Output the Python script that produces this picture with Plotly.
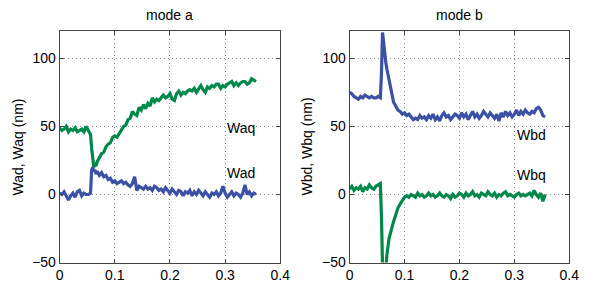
import plotly.graph_objects as go

# sample times (s)
t = [0.000, 0.004, 0.008, 0.012, 0.016, 0.020, 0.024, 0.028, 0.032, 0.036,
     0.040, 0.044, 0.048, 0.052, 0.056, 0.058, 0.060, 0.062, 0.064, 0.066,
     0.068, 0.072, 0.076, 0.080, 0.084, 0.088, 0.092, 0.096, 0.100,
     0.104, 0.108, 0.112, 0.116, 0.120, 0.124, 0.128, 0.132,
     0.136, 0.140, 0.144, 0.148, 0.152, 0.156, 0.160, 0.164,
     0.168, 0.172, 0.176, 0.180, 0.184, 0.188, 0.192, 0.196,
     0.200, 0.204, 0.208, 0.212, 0.216, 0.220, 0.224, 0.228,
     0.232, 0.236, 0.240, 0.244, 0.248, 0.252, 0.256, 0.260,
     0.264, 0.268, 0.272, 0.276, 0.280, 0.284, 0.288, 0.292,
     0.296, 0.300, 0.304, 0.308, 0.312, 0.316, 0.320, 0.324,
     0.328, 0.332, 0.336, 0.340, 0.344, 0.348, 0.352, 0.356]

waq = [49, 47, 48, 50, 46, 48, 47, 49, 46, 47, 48, 46, 50, 47,
       44, 34, 25, 20, 22, 21, 24, 27, 30, 31, 35, 37, 38, 42, 43,
       42, 45, 48, 50, 51, 55, 56, 61,
       59, 58, 64, 62, 66, 63, 67, 65,
       71, 68, 70, 69, 71, 73, 71, 72,
       74, 70, 69, 74, 76, 73, 75, 74,
       76, 77, 76, 78, 75, 78, 80, 77,
       75, 79, 78, 80, 79, 81, 81, 78,
       80, 79, 81, 82, 83, 80, 82, 80,
       82, 83, 83, 81, 82, 85, 84, 83]

wad = [1, 0, 2, -1, -4, -1, 1, -2, 2, 3, -1, 1, 0, 0,
       1, 18, 20, 17, 18, 15, 17, 14, 16, 13, 14, 11, 12, 9, 10,
       8, 9, 10, 8, 9, 7, 6, 8,
       13, 3, 6, 5, 4, 6, 4, 5,
       3, 6, 5, 3, 4, 2, 5, 3,
       1, 4, 2, 0, 3, 2, -1, 2,
       1, 3, -1, 2, 0, 3, 1, -1,
       2, 0, -2, 1, 0, 2, -1, 1,
       6, 1, -2, 0, 2, -1, 1, 0,
       -2, 1, 7, 0, 2, -1, 1, 0]

wbd = [75, 74, 72, 71, 70, 72, 71, 73, 72, 71, 72, 71, 71, 72,
       71, 88, 119, 110, 103, 97, 92, 84, 75, 68, 65, 62, 61, 59, 60,
       58, 59, 57, 55, 56, 55, 58, 56,
       57, 55, 58, 56, 59, 55, 57, 54,
       58, 60, 57, 58, 55, 57, 59, 58,
       56, 60, 57, 59, 55, 58, 61, 57,
       59, 56, 58, 61, 59, 57, 60, 58,
       56, 59, 54, 60, 57, 61, 58, 60,
       57, 59, 62, 58, 61, 59, 62, 60,
       59, 61, 60, 63, 64, 62, 58, 57]

wbq = [4, 6, 3, 5, 4, 6, 2, 5, 4, 7, 5, 4, 6, 7,
       8, -15, -65, -90, -78, -55, -44, -32, -25, -20, -15, -10, -7, -4, -2,
       -1, -2, 0, -1, -2, 1, -1, 0,
       -2, -1, 1, -1, 0, -2, -1, 1,
       -1, -2, 0, -1, -3, 0, -2, -1,
       1, 0, -2, 1, -1, 0, 2, -1,
       0, -2, 1, 0, -1, 2, 0, -1,
       1, -2, 0, -1, 1, 2, -1, 0,
       -1, -2, 0, 1, -1, 0, -1, 0,
       1, -1, 3, 0, -2, 1, -5, 0]

x_ticks = [0, 0.1, 0.2, 0.3, 0.4]
x_ticklabels = ["0", "0.1", "0.2", "0.3", "0.4"]
y_ticks = [-50, 0, 50, 100]

BLUE = "#3A51A6"
GREEN = "#00874A"
FONT = "Liberation Sans, Arial, sans-serif"
FS = 14

fig = go.Figure()
fig.add_trace(go.Scatter(x=t, y=waq, mode="lines", line=dict(color=GREEN, width=3.2),
                         xaxis="x", yaxis="y", showlegend=False))
fig.add_trace(go.Scatter(x=t, y=wad, mode="lines", line=dict(color=BLUE, width=3.2),
                         xaxis="x", yaxis="y", showlegend=False))
fig.add_trace(go.Scatter(x=t, y=wbd, mode="lines", line=dict(color=BLUE, width=3.2),
                         xaxis="x2", yaxis="y2", showlegend=False))
fig.add_trace(go.Scatter(x=t, y=wbq, mode="lines", line=dict(color=GREEN, width=3.2),
                         xaxis="x2", yaxis="y2", showlegend=False))

W, H = 589, 290
ax_common = dict(showline=True, mirror="ticks", linecolor="#444444", linewidth=1,
                 ticks="inside", ticklen=4, tickcolor="#444444",
                 showgrid=True, gridcolor="#8a8a8a", griddash="1px,3px", gridwidth=1,
                 zeroline=False, tickfont=dict(family=FONT, size=FS, color="black"))

fig.update_layout(
    width=W, height=H, autosize=False,
    margin=dict(l=0, r=0, t=0, b=0),
    paper_bgcolor="white", plot_bgcolor="white",
    font=dict(family=FONT, size=FS, color="black"),
    xaxis=dict(domain=[57 / W, 283 / W], range=[0, 0.4], tickvals=x_ticks,
               ticktext=x_ticklabels, anchor="y", **ax_common),
    yaxis=dict(domain=[20 / H, 258 / H], range=[-50, 120], tickvals=y_ticks,
               anchor="x", **ax_common),
    xaxis2=dict(domain=[354 / W, 579 / W], range=[0, 0.4], tickvals=x_ticks,
                ticktext=x_ticklabels, anchor="y2", **ax_common),
    yaxis2=dict(domain=[20 / H, 258 / H], range=[-50, 120], tickvals=y_ticks,
                anchor="x2", **ax_common),
)

anns = [
    dict(text="mode a", x=170 / W, y=1 - 15 / H, xref="paper", yref="paper",
         showarrow=False, xanchor="center", yanchor="middle"),
    dict(text="mode b", x=467 / W, y=1 - 15 / H, xref="paper", yref="paper",
         showarrow=False, xanchor="center", yanchor="middle"),
    dict(text="Wad, Waq (nm)", x=14 / W, y=1 - 151 / H, xref="paper", yref="paper",
         showarrow=False, textangle=-90, xanchor="center", yanchor="middle"),
    dict(text="Wbd, Wbq (nm)", x=310 / W, y=1 - 151 / H, xref="paper", yref="paper",
         showarrow=False, textangle=-90, xanchor="center", yanchor="middle"),
    dict(text="Waq", x=0.299, y=49, xref="x", yref="y", showarrow=False,
         xanchor="left", yanchor="middle"),
    dict(text="Wad", x=0.299, y=15.5, xref="x", yref="y", showarrow=False,
         xanchor="left", yanchor="middle"),
    dict(text="Wbd", x=0.301, y=44, xref="x2", yref="y2", showarrow=False,
         xanchor="left", yanchor="middle"),
    dict(text="Wbq", x=0.301, y=14, xref="x2", yref="y2", showarrow=False,
         xanchor="left", yanchor="middle"),
]
fig.update_layout(annotations=anns)

fig.write_html("out.html",
               config={"displayModeBar": False, "responsive": False, "staticPlot": True},
               default_width="589px", default_height="290px",
               post_script="document.body.style.margin='0';document.body.style.padding='0';"
                           "document.body.style.overflow='hidden';")
